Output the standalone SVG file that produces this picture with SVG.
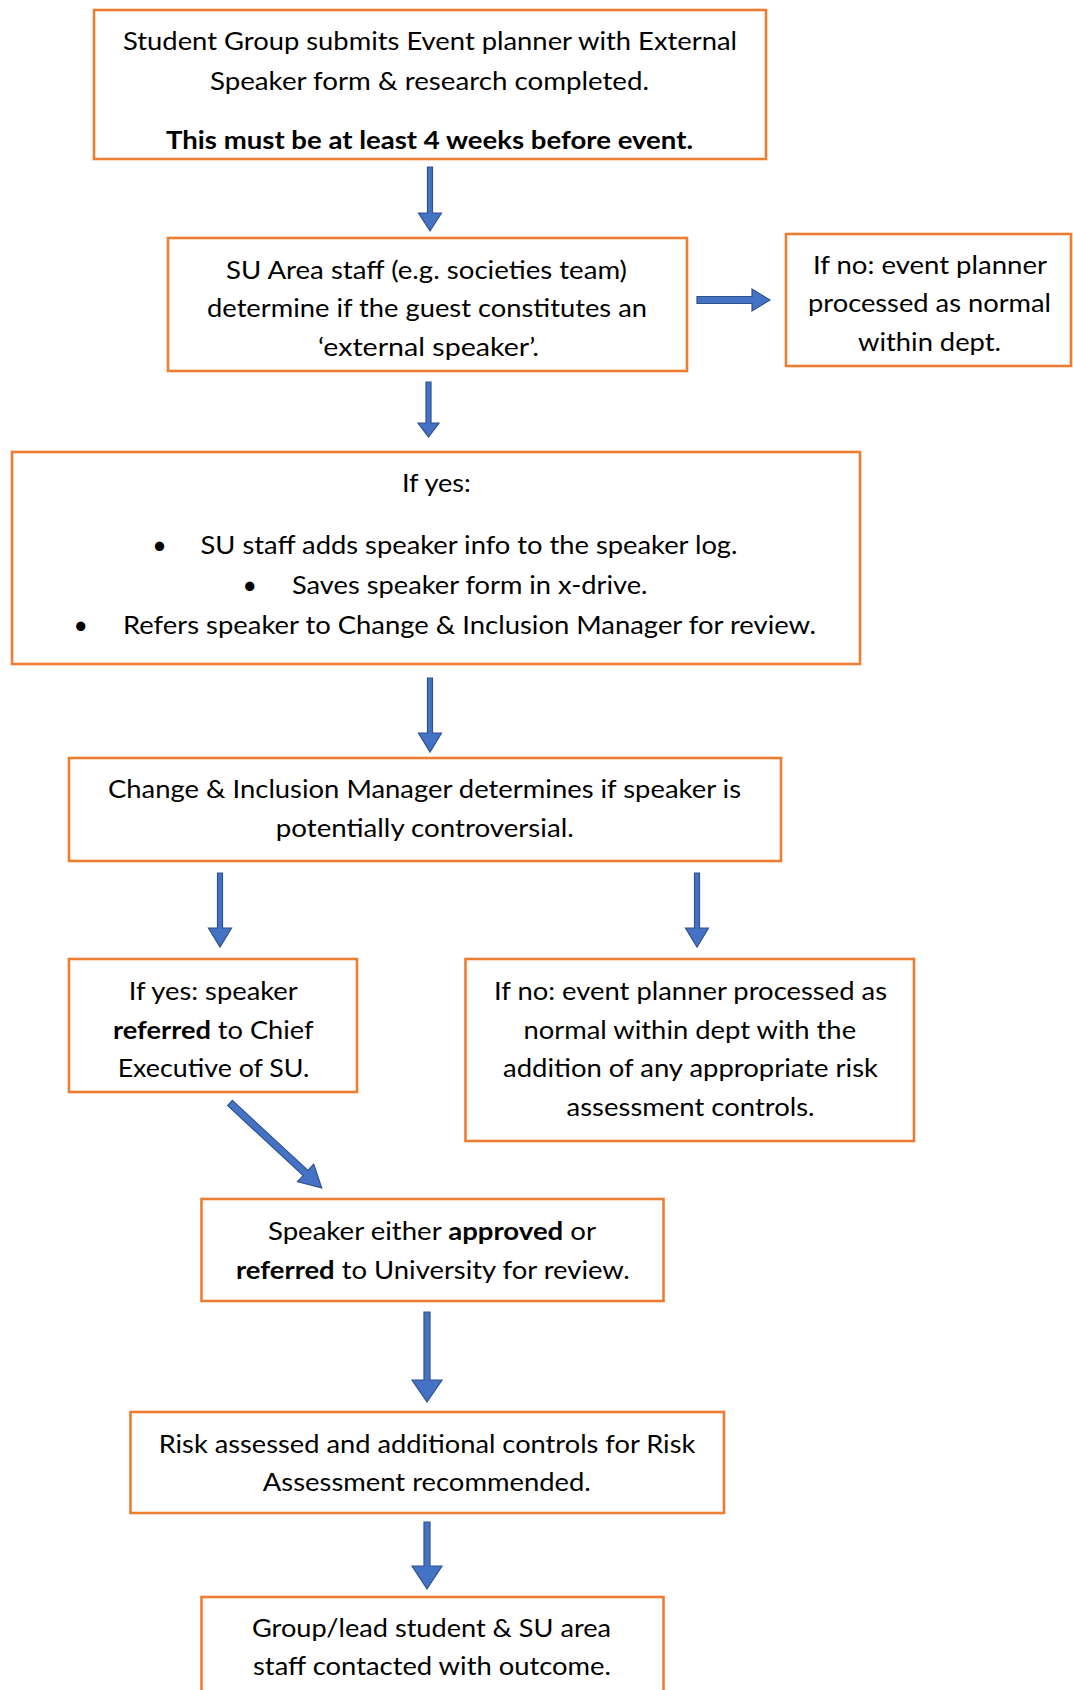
<svg xmlns="http://www.w3.org/2000/svg" width="1073" height="1690" viewBox="0 0 1073 1690">
<style>
.box{fill:#FFFFFF;stroke:#ED7D31;stroke-width:2.6}
.t{font-family:Lato,"Open Sans","Liberation Sans",sans-serif;font-size:25px;fill:#000000;text-anchor:middle}
.s{text-anchor:start}
.b{font-weight:bold}
.arr{fill:#4472C4;stroke:#2F528F;stroke-width:1.2;stroke-linejoin:miter}
</style>
<rect width="1073" height="1690" fill="#FFFFFF"/>
<g id="connectors">
<polygon class="arr" points="427.5,167 432.5,167 432.5,213 441.5,213 430,231 418.5,213 427.5,213"/>
<polygon class="arr" points="697,296.5 752,296.5 752,289 770,300 752,311 752,303.5 697,303.5"/>
<polygon class="arr" points="426,382 431,382 431,423 439,423 428.5,437 418,423 426,423"/>
<polygon class="arr" points="427.5,678 432.5,678 432.5,733 441.5,733 430,752 418.5,733 427.5,733"/>
<polygon class="arr" points="217.5,873 222.5,873 222.5,928 231.5,928 220,947 208.5,928 217.5,928"/>
<polygon class="arr" points="694.5,873 699.5,873 699.5,928 708.5,928 697,947 685.5,928 694.5,928"/>
<polygon class="arr" transform="translate(230,1103) rotate(42.8)" points="0,-3.5 103,-3.5 103,-12 125,0 103,12 103,3.5 0,3.5"/>
<polygon class="arr" points="424,1312 430,1312 430,1380 442,1380 427,1402 412,1380 424,1380"/>
<polygon class="arr" points="424,1522 430,1522 430,1566 442,1566 427,1589 412,1566 424,1566"/>
</g>
<g id="n1">
<rect class="box" x="94" y="10" width="672" height="149"/>
<text class="t" x="430" y="50" textLength="614" lengthAdjust="spacingAndGlyphs">Student Group submits Event planner with External</text>
<text class="t" x="429.5" y="89.5" textLength="439" lengthAdjust="spacingAndGlyphs">Speaker form &amp; research completed.</text>
<text class="t b" x="429.5" y="148.5" textLength="527" lengthAdjust="spacingAndGlyphs">This must be at least 4 weeks before event.</text>
</g>
<g id="n2">
<rect class="box" x="168" y="238" width="519" height="133"/>
<text class="t" x="426.5" y="278.5" textLength="401" lengthAdjust="spacingAndGlyphs">SU Area staff (e.g. societies team)</text>
<text class="t" x="427" y="316.5" textLength="440" lengthAdjust="spacingAndGlyphs">determine if the guest constitutes an</text>
<text class="t" x="428.5" y="355.5" textLength="221" lengthAdjust="spacingAndGlyphs">‘external speaker’.</text>
</g>
<g id="n3">
<rect class="box" x="786" y="234" width="285" height="132"/>
<text class="t" x="930" y="273.5" textLength="234" lengthAdjust="spacingAndGlyphs">If no: event planner</text>
<text class="t" x="929.5" y="312" textLength="243" lengthAdjust="spacingAndGlyphs">processed as normal</text>
<text class="t" x="929.5" y="351" textLength="143" lengthAdjust="spacingAndGlyphs">within dept.</text>
</g>
<g id="n4">
<rect class="box" x="12" y="452" width="848" height="212"/>
<text class="t" x="436.4" y="492" textLength="69" lengthAdjust="spacingAndGlyphs">If yes:</text>
<text class="t" x="159.5" y="554">•</text>
<text class="t s" x="200.5" y="554" textLength="537" lengthAdjust="spacingAndGlyphs">SU staff adds speaker info to the speaker log.</text>
<text class="t" x="249.8" y="594">•</text>
<text class="t s" x="292" y="594" textLength="355.5" lengthAdjust="spacingAndGlyphs">Saves speaker form in x-drive.</text>
<text class="t" x="80.8" y="633.5">•</text>
<text class="t s" x="123" y="633.5" textLength="693" lengthAdjust="spacingAndGlyphs">Refers speaker to Change &amp; Inclusion Manager for review.</text>
</g>
<g id="n5">
<rect class="box" x="69" y="758" width="712" height="103"/>
<text class="t" x="424.5" y="798" textLength="633" lengthAdjust="spacingAndGlyphs">Change &amp; Inclusion Manager determines if speaker is</text>
<text class="t" x="424.8" y="836.5" textLength="298" lengthAdjust="spacingAndGlyphs">potentially controversial.</text>
</g>
<g id="n6">
<rect class="box" x="69" y="959" width="288" height="133"/>
<text class="t" x="213.2" y="999.5" textLength="169" lengthAdjust="spacingAndGlyphs">If yes: speaker</text>
<text class="t" x="213.3" y="1038.5" textLength="200.5" lengthAdjust="spacingAndGlyphs"><tspan class="b">referred</tspan> to Chief</text>
<text class="t" x="213.5" y="1076.5" textLength="191.7" lengthAdjust="spacingAndGlyphs">Executive of SU.</text>
</g>
<g id="n7">
<rect class="box" x="465.5" y="959" width="448.5" height="182"/>
<text class="t" x="690.5" y="999.5" textLength="393" lengthAdjust="spacingAndGlyphs">If no: event planner processed as</text>
<text class="t" x="689.8" y="1038.5" textLength="332.6" lengthAdjust="spacingAndGlyphs">normal within dept with the</text>
<text class="t" x="690.5" y="1076.5" textLength="375" lengthAdjust="spacingAndGlyphs">addition of any appropriate risk</text>
<text class="t" x="690.6" y="1115.5" textLength="248" lengthAdjust="spacingAndGlyphs">assessment controls.</text>
</g>
<g id="n8">
<rect class="box" x="201.5" y="1199" width="462" height="102"/>
<text class="t" x="432" y="1239.5" textLength="328" lengthAdjust="spacingAndGlyphs">Speaker either <tspan class="b">approved</tspan> or</text>
<text class="t" x="432.9" y="1278.5" textLength="393.7" lengthAdjust="spacingAndGlyphs"><tspan class="b">referred</tspan> to University for review.</text>
</g>
<g id="n9">
<rect class="box" x="130.5" y="1412" width="593.5" height="101"/>
<text class="t" x="427" y="1453" textLength="536.6" lengthAdjust="spacingAndGlyphs">Risk assessed and additional controls for Risk</text>
<text class="t" x="426.8" y="1490.5" textLength="328" lengthAdjust="spacingAndGlyphs">Assessment recommended.</text>
</g>
<g id="n10">
<rect class="box" x="201.5" y="1597" width="462" height="120"/>
<text class="t" x="431.5" y="1636.5" textLength="359" lengthAdjust="spacingAndGlyphs">Group/lead student &amp; SU area</text>
<text class="t" x="432" y="1675" textLength="358" lengthAdjust="spacingAndGlyphs">staff contacted with outcome.</text>
</g>
</svg>
